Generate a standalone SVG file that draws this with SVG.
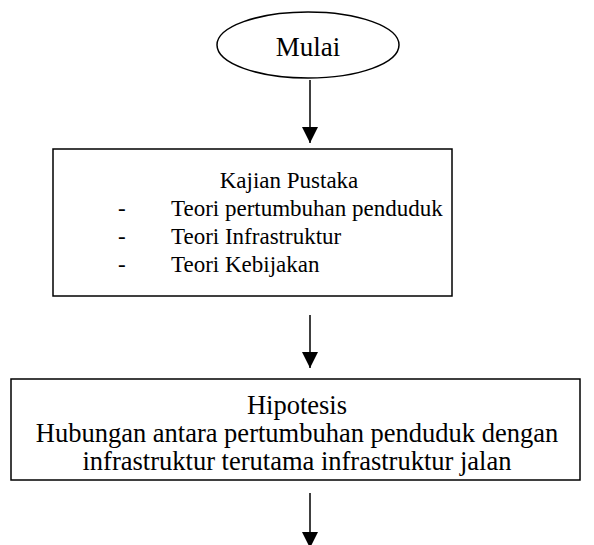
<svg xmlns="http://www.w3.org/2000/svg" width="594" height="545" viewBox="0 0 594 545">
<style>
.shape{fill:#fff;stroke:#000;stroke-width:1.5}
.t{font-family:"Liberation Serif","Times New Roman",serif;font-size:23px;fill:#000}
.b{font-size:26.5px}
.c{text-anchor:middle}
.ln{stroke:#000;stroke-width:1.5;fill:none}
</style>
<defs>
<marker id="ah" viewBox="0 0 16 16" refX="16" refY="8" markerWidth="16" markerHeight="16" markerUnits="userSpaceOnUse" orient="auto">
<path d="M0,0 L16,8 L0,16 Z" fill="#000"/>
</marker>
</defs>
<rect width="594" height="545" fill="#fff"/>
<g id="mulai">
<ellipse class="shape" cx="308" cy="45" rx="91" ry="33"/>
<text class="t c" x="308" y="56" style="font-size:27px">Mulai</text>
</g>
<g id="kajian">
<rect class="shape" x="53" y="149" width="399" height="147"/>
<text class="t c" x="289" y="188">Kajian Pustaka</text>
<text class="t" x="118" y="216">-</text>
<text class="t" x="171" y="216">Teori pertumbuhan penduduk</text>
<text class="t" x="118" y="244">-</text>
<text class="t" x="171" y="244">Teori Infrastruktur</text>
<text class="t" x="118" y="272">-</text>
<text class="t" x="171" y="272">Teori Kebijakan</text>
</g>
<g id="hipotesis">
<rect class="shape" x="11" y="379" width="569" height="101"/>
<text class="t b c" x="297" y="414">Hipotesis</text>
<text class="t b c" x="297" y="442">Hubungan antara pertumbuhan penduduk dengan</text>
<text class="t b c" x="297" y="470">infrastruktur terutama infrastruktur jalan</text>
</g>
<g id="connectors">
<line class="ln" x1="310" y1="80" x2="310" y2="143" marker-end="url(#ah)"/>
<line class="ln" x1="310" y1="315" x2="310" y2="368" marker-end="url(#ah)"/>
<line class="ln" x1="310" y1="493" x2="310" y2="548" marker-end="url(#ah)"/>
</g>
</svg>
